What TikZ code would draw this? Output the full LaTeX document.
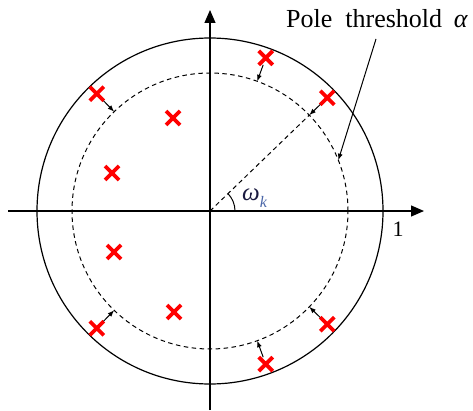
\documentclass[tikz,border=0pt]{standalone}
\usepackage{fontspec}
\setmainfont{Liberation Serif}
\usetikzlibrary{arrows.meta,shapes.misc,calc}
\definecolor{omegac}{HTML}{1A1A40}
\definecolor{kc}{HTML}{4A66A8}
\begin{document}
\begin{tikzpicture}[x=1pt,y=1pt,
 pole/.style={cross out, draw=red, line width=3.8pt, minimum size=11pt, inner sep=0pt, outer sep=1.5pt},
 axis/.style={line width=1.2pt, -{Triangle[length=13pt,width=11pt]}},
 circ/.style={line width=1.2pt},
 thr/.style={line width=1pt, dash pattern=on 4.5pt off 3.5pt},
 move/.style={line width=1pt, -{Latex[length=6.5pt,width=5pt]}},
]
\useasboundingbox (0,0) rectangle (473,410);
\coordinate (O) at (210,199);
\draw[circ] (O) circle[radius=173];
\draw[thr] (O) circle[radius=138];
\coordinate (xs) at (8,199);
\coordinate (xe) at (424,199);
\coordinate (ys) at (210,0);
\coordinate (ye) at (210,400);
\draw[axis] (xs) -- (xe);
\draw[axis] (ys) -- (ye);

% threshold targets
\coordinate (t1) at ($(O)+(70:138)$);
\coordinate (t2) at ($(O)+(44:138)$);
\coordinate (t3) at ($(O)+(134:138)$);
\coordinate (t4) at ($(O)+(-134:138)$);
\coordinate (t5) at ($(O)+(-70:138)$);
\coordinate (t6) at ($(O)+(-44:138)$);

% radial line and angle
\draw[thr] (O) -- (t2);
\draw[line width=1pt] ($(O)+(25,0)$) arc[start angle=0,end angle=44,radius=25];

% poles
\node[pole] (p1) at ($(O)+(70:163)$) {};
\node[pole] (p2) at ($(O)+(44:163)$) {};
\node[pole] (p3) at ($(O)+(134:163)$) {};
\node[pole] (p4) at ($(O)+(-134:163)$) {};
\node[pole] (p5) at ($(O)+(-70:163)$) {};
\node[pole] (p6) at ($(O)+(-44:163)$) {};
\node[pole] (q1) at (173,292) {};
\node[pole] (q2) at (112,237) {};
\node[pole] (q3) at (114,158) {};
\node[pole] (q4) at (174,98) {};

\draw[move] (p1) -- (t1);
\draw[move] (p2) -- (t2);
\draw[move] (p3) -- (t3);
\draw[move] (p4) -- (t4);
\draw[move] (p5) -- (t5);
\draw[move] (p6) -- (t6);

% labels
\node[anchor=base west, inner sep=0pt, text=omegac, font=\fontsize{25}{28}\selectfont] (w) at (242,210)
  {\textit{ω}\raisebox{-7pt}{\fontsize{16}{18}\selectfont\color{kc}\textit{k}}};
\node[anchor=base, inner sep=0pt, font=\fontsize{22}{24}\selectfont] (one) at (398,174) {1};
\node[anchor=base west, inner sep=0pt, font=\fontsize{26}{28}\selectfont] (lab) at (286,382)
  {Pole\hspace{0.5em}threshold\hspace{0.45em}\textit{α}};
\coordinate (lt) at (376,371);
\coordinate (lh) at ($(O)+(21.6:138)$);
\draw[move] (lt) -- (lh);
\end{tikzpicture}
\end{document}
